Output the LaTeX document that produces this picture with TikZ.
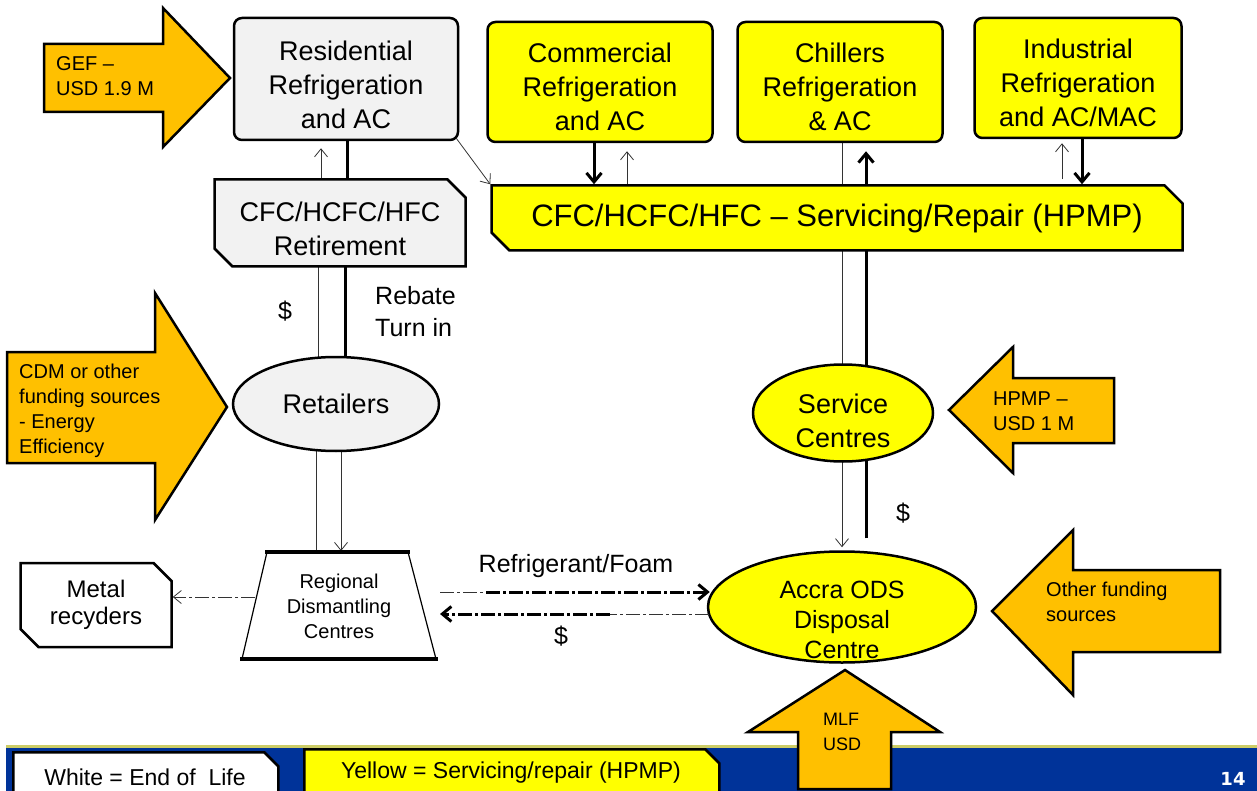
\documentclass[tikz,border=0pt]{standalone}
\usepackage{fontspec}
\setmainfont{Liberation Sans}
\newfontfamily\numfont{DejaVu Sans}
\usetikzlibrary{shapes.misc,shapes.geometric,arrows.meta,calc,backgrounds}
\definecolor{orng}{HTML}{FFC000}
\definecolor{yel}{HTML}{FFFF00}
\definecolor{lgray}{HTML}{F2F2F2}
\definecolor{bandblue}{HTML}{003399}
\definecolor{khaki}{HTML}{CCCC66}
\newcommand\bxf{\fontsize{27}{34}\selectfont}
\newcommand\brf{\fontsize{31}{36}\selectfont}
\newcommand\arf{\fontsize{20}{25}\selectfont}
\newcommand\dmf{\fontsize{20}{25}\selectfont}
\newcommand\lgf{\fontsize{23}{28}\selectfont}
\tikzset{
  box/.style={draw, line width=2.5pt, rounded corners=8pt, align=center, inner sep=0pt, font=\bxf},
  chbox/.style={chamfered rectangle, chamfered rectangle corners={north east,south west},
     chamfered rectangle xsep=9pt, chamfered rectangle ysep=9pt, draw, line width=2.5pt,
     align=center, inner sep=0pt, font=\bxf},
  ell/.style={ellipse, draw, line width=2.5pt, inner sep=0pt, align=center, font=\bxf},
  barrow/.style={draw, fill=orng, line width=2.5pt, line join=miter},
  atext/.style={anchor=west, align=left, font=\arf, inner sep=0pt},
  thk/.style={line width=3pt},
  thn/.style={line width=0.8pt, black!80},
  ohead/.style={-{Straight Barb[length=8pt,width=13pt]}},
  bhead/.style={-{Straight Barb[length=9pt,width=15pt]}},
  dd/.style={dash pattern=on 14pt off 3pt on 3pt off 3pt},
  lbl/.style={font=\bxf, inner sep=0pt, align=center},
  legbox/.style={chamfered rectangle, chamfered rectangle corners={north east}, chamfered rectangle xsep=7pt,
     chamfered rectangle ysep=7pt, draw, line width=2.5pt, anchor=north west, inner sep=0pt, font=\lgf}
}
\begin{document}
\begin{tikzpicture}[x=1pt,y=-1pt]
\useasboundingbox (0,0) rectangle (1257,791);
% bottom band
\fill[bandblue] (6,748) rectangle (1257,791);
\fill[khaki] (6,745) rectangle (1257,748);
\node[legbox, fill=white, minimum width=265, minimum height=48] (legw) at (12,751) {\phantom{White = End of\ \ Life}};
\node[lbl, font=\lgf] (legwt) at (145,777) {White = End of\ \ Life};
\node[legbox, fill=yel, minimum width=415, minimum height=50] (legy) at (303,748) {\phantom{Yellow = Servicing/repair (HPMP)}};
\node[lbl, font=\lgf] (legyt) at (511,773) {Yellow = Servicing/repair (HPMP)};
\node[text=white, font=\fontsize{18}{20}\numfont\bfseries\selectfont, inner sep=0pt] (pg) at (1233,779) {14};

% boxes
\node[box, fill=lgray, minimum width=224, minimum height=122] (res) at (346,79) {};
\node[lbl] (rest) at (346,85) {Residential\\Refrigeration\\and AC};
\node[box, fill=yel, minimum width=225, minimum height=120] (com) at (600,82) {};
\node[lbl] (comt) at (600,87) {Commercial\\Refrigeration\\and AC};
\node[box, fill=yel, minimum width=205, minimum height=120] (chill) at (840,82) {};
\node[lbl] (chillt) at (840,87) {Chillers\\Refrigeration\\\& AC};
\node[box, fill=yel, minimum width=207, minimum height=120] (ind) at (1078,78) {};
\node[lbl] (indt) at (1078,83) {Industrial\\Refrigeration\\and AC/MAC};
\node[chbox, fill=yel, font=\brf, minimum width=691, minimum height=65] (serv) at (837,218) {CFC/HCFC/HFC – Servicing/Repair (HPMP)};
\node[chbox, fill=lgray, minimum width=251, minimum height=87] (ret) at (340,223) {\phantom{CFC/HCFC/HFC}\\\phantom{Retirement}};
\node[lbl] (rett) at (340,229) {CFC/HCFC/HFC\\Retirement};
\node[ell, fill=lgray, minimum width=206, minimum height=94] (retail) at (336,404) {Retailers};
\node[ell, fill=yel, minimum width=180, minimum height=97] (sc) at (843,413) {};
\node[lbl] (sct) at (843,421) {Service\\Centres};
\node[ell, fill=yel, minimum width=268, minimum height=111] (accra) at (842,607) {};
\node[lbl, font=\fontsize{25}{30}\selectfont] (accrat) at (842,620) {Accra ODS\\Disposal\\Centre};
% dismantling trapezium
\draw[line width=1.2pt, fill=white] (267,552) -- (408,552) -- (436,659) -- (242,659) -- cycle;
\draw[line width=3.5pt] (265,552) -- (410,552) (240,659) -- (438,659);
\node[lbl, font=\dmf] (dism) at (339,606) {Regional\\Dismantling\\Centres};
\node[chbox, fill=white, font=\fontsize{24}{27}\selectfont, minimum width=151, minimum height=84] (metal) at (96,605) {Metal\\recyders};

% block arrows
\draw[barrow] (44,44) -- (163,44) -- (163,8) -- (230,78) -- (163,147) -- (163,112) -- (44,112) -- cycle;
\node[atext] (gef) at (56,76) {GEF –\\USD 1.9 M};
\draw[barrow] (7,352) -- (155,352) -- (155,293) -- (227,407) -- (155,520) -- (155,463) -- (7,463) -- cycle;
\node[atext] (cdm) at (19,411) {CDM or other\\funding sources\\- Energy\\Efficiency};
\draw[barrow] (1114,378) -- (1013,378) -- (1013,347) -- (949,410) -- (1013,473) -- (1013,443) -- (1114,443) -- cycle;
\node[atext] (hpmp) at (993,411) {HPMP –\\USD 1 M};
\draw[barrow] (1220,570) -- (1073,570) -- (1073,530) -- (992,611) -- (1073,695) -- (1073,652) -- (1220,652) -- cycle;
\node[atext] (other) at (1046,602) {Other funding\\sources};
\draw[barrow] (798,789) -- (798,732) -- (748,732) -- (845,670) -- (940,732) -- (891,732) -- (891,789) -- cycle;
\node[atext, font=\fontsize{18}{25}\selectfont] (mlf) at (823,732) {MLF\\USD};

% connectors
\coordinate (a1) at ($(res.south)+(1,0)$);
\draw[thk] (a1) -- (a1 |- ret.north);
\coordinate (a2) at ($(ret.north)+(-19,0)$);
\draw[thn, ohead] (a2) -- ($(a2 |- res.south)+(0,7)$);
\draw[thn, ohead] ($(res.south east)+(-3,-3)$) -- (serv.north west);

\coordinate (b1) at ($(com.south)+(-6,0)$);
\draw[thk, bhead] (b1) -- (b1 |- serv.north);
\coordinate (b2) at ($(serv.north -| com.south)+(27,0)$);
\draw[thn, ohead] (b2) -- ($(b2 |- com.south)+(0,8)$);

\coordinate (i1) at ($(ind.south)+(4,0)$);
\draw[thk, bhead] (i1) -- (i1 |- serv.north);
\coordinate (i2) at ($(ind.south)+(-16,40)$);
\draw[thn, ohead] (i2) -- ($(ind.south)+(-16,4)$);

\coordinate (dtl) at ($(dism.center)+(-23,-54)$);
\coordinate (dtr) at ($(dism.center)+(2,-55)$);

\begin{scope}[on background layer]
\draw[thn] ($(ret.center)+(-22,0)$) -- ($(retail.center)+(-18,0)$);
\draw[thk] ($(ret.center)+(5,0)$) -- ($(retail.center)+(9,0)$);
\draw[thn] ($(retail.center)+(-20,0)$) -- (dtl);
\draw[thn, ohead] ($(retail.center)+(5,0)$) -- (dtr);
\draw[thn, ohead] ($(chill.south)+(2,0)$) -- ($(accra.north)+(0,-3)$);
\draw[thk, bhead] ($(accra.north)+(24,-12)$) -- ($(chill.south)+(26,8)$);
\end{scope}

\draw[thn, dd, ohead] ($(dism.center)+(-84,-9)$) -- ($(metal.east)+(0,-8)$);
\coordinate (r0) at ($(dism.center)+(101,-14)$);
\coordinate (r1) at ($(dism.center)+(147,-14)$);
\coordinate (r2) at ($(accra.west)+(3,-15)$);
\draw[thn, dd] (r0) -- (r1);
\draw[thk, dd, bhead] (r1) -- (r2);
\coordinate (s0) at ($(accra.west)+(2,7)$);
\coordinate (s1) at ($(dism.center)+(271,8)$);
\coordinate (s2) at ($(dism.center)+(101,8)$);
\draw[thn, dd] (s0) -- (s1);
\draw[thk, dd, bhead] (s1) -- (s2);

% labels
\node[lbl, align=left, anchor=west, font=\fontsize{25}{32}\selectfont] (rebate) at (375,312) {Rebate\\Turn in};
\node[lbl, font=\fontsize{25}{30}\selectfont] (d1) at (285,311) {\$};
\node[lbl, font=\fontsize{25}{30}\selectfont] (d2) at (903,513) {\$};
\node[lbl, font=\fontsize{25}{30}\selectfont] (reflbl) at (576,566) {Refrigerant/Foam};
\node[lbl, font=\fontsize{25}{30}\selectfont] (d3) at (561,636) {\$};
\end{tikzpicture}
\end{document}
